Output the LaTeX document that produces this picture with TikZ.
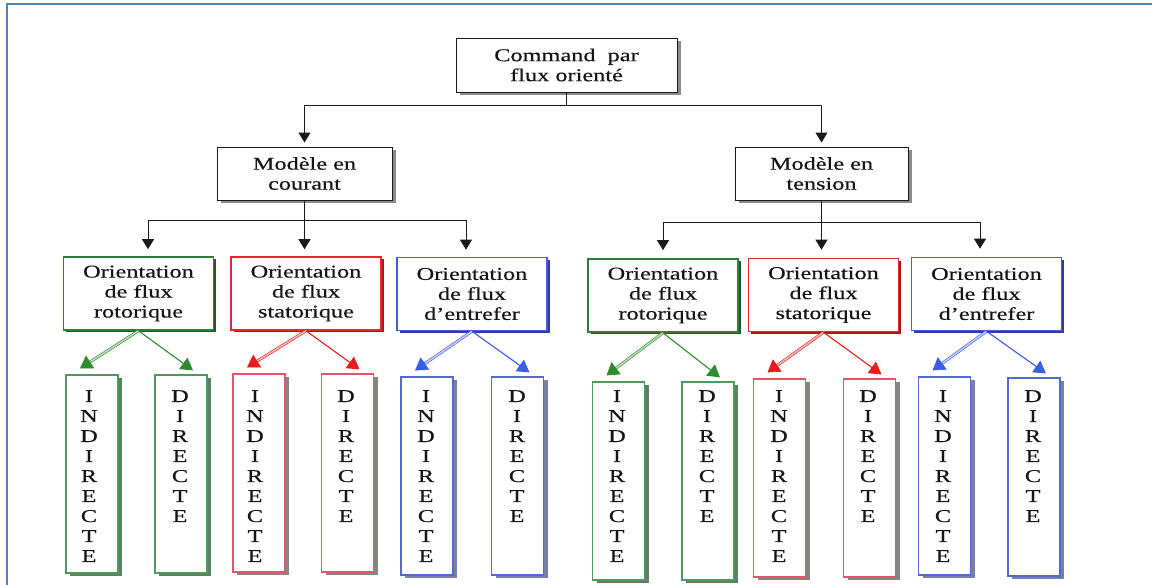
\documentclass[tikz,border=0pt]{standalone}
\usepackage{fontspec}
\setmainfont{Liberation Serif}[FakeStretch=1.35,FakeBold=0.35]
\usetikzlibrary{arrows.meta,shadows,calc}
\definecolor{frameblue}{HTML}{4F81BD}
\definecolor{txt}{HTML}{141414}
\definecolor{conn}{HTML}{1A1A1A}
\definecolor{gLine}{HTML}{2F7D3B}
\definecolor{gShad}{HTML}{1E5A28}
\definecolor{rLine}{HTML}{E4282E}
\definecolor{rShad}{HTML}{A81818}
\definecolor{bLine}{HTML}{4A5AD8}
\definecolor{bShad}{HTML}{2E3C9C}
\definecolor{gLineV}{HTML}{4E9A5C}
\definecolor{gShadV}{HTML}{5F7F63}
\definecolor{rLineV}{HTML}{E0566A}
\definecolor{rShadV}{HTML}{858585}
\definecolor{bLineV}{HTML}{5566D6}
\definecolor{bShadV}{HTML}{7880A8}
\definecolor{gArr}{HTML}{2E8B2E}
\definecolor{rArr}{HTML}{E81C1C}
\definecolor{bArr}{HTML}{3B5BE8}
\tikzset{
  blackbox/.style={draw=conn, fill=white, line width=0.9pt, align=center,
    text=txt, inner sep=0pt,
    drop shadow={shadow xshift=3.5pt, shadow yshift=-3.5pt, fill=black, opacity=0.45}},
  orbox/.style={draw=#1, fill=white, line width=1.6pt, align=center, text=txt,
    inner sep=0pt, minimum width=150pt, minimum height=73pt},
  orshad/.style={drop shadow={shadow xshift=2.5pt, shadow yshift=-2.5pt, fill=#1, opacity=1}},
  vbox/.style={draw=#1, fill=white, line width=1.2pt, inner sep=0pt,
    minimum width=52pt, minimum height=198pt},
  vshad/.style={drop shadow={shadow xshift=4pt, shadow yshift=-3pt, fill=#1, opacity=1}},
  letters/.style={align=center, inner sep=0pt, anchor=north, text=txt},
  conarr/.style={draw=conn, line width=1pt, -{Triangle[width=12pt,length=10pt]}},
  conline/.style={draw=conn, line width=1pt},
  dblarr/.style={draw=#1, line width=0.6pt, double=#1!30!white, double distance=1.6pt,
    -{Triangle[width=15pt,length=12pt,fill=#1]}},
  sglarr/.style={draw=#1, line width=1.1pt, -{Triangle[width=14pt,length=12pt,fill=#1]}}
}
\begin{document}
\begin{tikzpicture}[x=1pt,y=-1pt,font=\fontsize{18}{20}\selectfont]
\useasboundingbox (0,0) rectangle (1152,585);
\fill[white] (0,0) rectangle (1152,585);
% frame
\draw[frameblue, line width=2.5pt] (7,585) -- (7,4) -- (1152,4);

% level 1 and 2
\node[blackbox, minimum width=221pt, minimum height=54pt] (top) at (566.5,65) {Command~~par\\flux orienté};
\node[blackbox, minimum width=175pt, minimum height=53pt] (mc) at (304.5,173.5) {Modèle en\\courant};
\node[blackbox, minimum width=173pt, minimum height=53pt] (mt) at (821.5,173.5) {Modèle en\\tension};

\coordinate (j0) at ($(top.south)+(0,13)$);
\draw[conline] (top.south) -- (j0);
\draw[conarr, shorten >=4pt] (j0) -| (mc.north);
\draw[conarr, shorten >=4pt] (j0) -| (mt.north);

% level 3
\node[orbox=gLine, orshad=gShad] (L1) at (138.5,293.5) {Orientation\\de flux\\rotorique};
\node[orbox=rLine, orshad=rShad] (L2) at (306,293.5) {Orientation\\de flux\\statorique};
\node[orbox=bLine, orshad=bShad] (L3) at (472,294) {Orientation\\de flux\\d’entrefer};
\node[orbox=gLine, orshad=gShad] (R1) at (663,295.5) {Orientation\\de flux\\rotorique};
\node[orbox=rLine, orshad=rShad] (R2) at (823.5,295) {Orientation\\de flux\\statorique};
\node[orbox=bLine, orshad=bShad] (R3) at (986.5,294) {Orientation\\de flux\\d’entrefer};

\coordinate (j1) at ($(mc.south)+(0,20)$);
\coordinate (j2) at ($(mt.south)+(0,22)$);
\draw[conline] (mc.south) -- (j1);
\draw[conline] (mt.south) -- (j2);
\draw[conarr, shorten >=7pt] (j1) -| ([xshift=9.5pt]L1.north);
\draw[conarr, shorten >=7pt] (j1) -- (j1 |- L2.north);
\draw[conarr, shorten >=7pt] (j1) -| ([xshift=-6pt]L3.north);
\draw[conarr, shorten >=8pt] (j2) -| (R1.north);
\draw[conarr, shorten >=8pt] (j2) -- (j2 |- R2.north);
\draw[conarr, shorten >=8pt] (j2) -| ([xshift=-6.5pt]R3.north);

% level 4 boxes
\node[vbox=gLineV, vshad=gShadV] (g1i) at (92,474) {};
\node[vbox=gLineV, vshad=gShadV] (g1d) at (181,474) {};
\node[vbox=rLineV, vshad=rShadV] (r1i) at (259,473) {};
\node[vbox=rLineV, vshad=rShadV] (r1d) at (347.5,473) {};
\node[vbox=bLineV, vshad=bShadV] (b1i) at (427,476) {};
\node[vbox=bLineV, vshad=bShadV] (b1d) at (517.5,476) {};
\node[vbox=gLineV, vshad=gShadV] (g2i) at (618.5,481) {};
\node[vbox=gLineV, vshad=gShadV] (g2d) at (708,481) {};
\node[vbox=rLineV, vshad=rShadV] (r2i) at (779.5,478) {};
\node[vbox=rLineV, vshad=rShadV] (r2d) at (869.5,478) {};
\node[vbox=bLineV, vshad=bShadV] (b2i) at (944.5,476) {};
\node[vbox=bLineV, vshad=bShadV] (b2d) at (1034,477) {};

% letters
\foreach \n/\x in {g1i/89,r1i/255,b1i/426,g2i/617,r2i/779,b2i/943}{
  \node[letters] (\n T) at (\x,390) {I\\N\\D\\I\\R\\E\\C\\T\\E};
}
\foreach \n/\x in {g1d/180,r1d/346,b1d/517,g2d/707,r2d/868,b2d/1033}{
  \node[letters] (\n T) at (\x,390) {D\\I\\R\\E\\C\\T\\E};
}

% coloured arrows
\foreach \L/\i/\d/\c in {L1/g1i/g1d/gArr, L2/r1i/r1d/rArr, L3/b1i/b1d/bArr,
                        R1/g2i/g2d/gArr, R2/r2i/r2d/rArr, R3/b2i/b2d/bArr}{
  \coordinate (\i tip) at ($(\i.north)+(-12,-6)$);
  \coordinate (\d tip) at ($(\d.north)+(12,-4)$);
  \draw[dblarr=\c] (\L.south) -- (\i tip);
  \draw[sglarr=\c] (\L.south) -- (\d tip);
}
\end{tikzpicture}
\end{document}
